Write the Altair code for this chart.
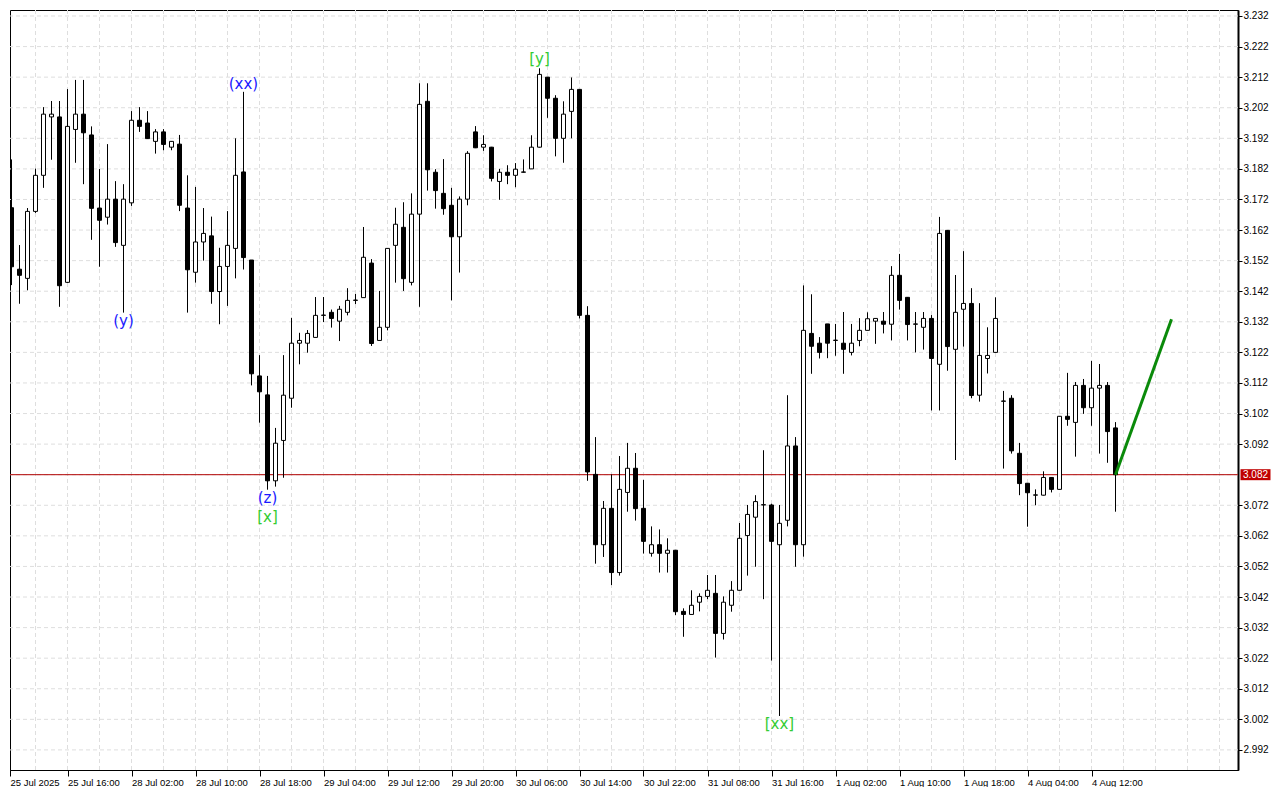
import altair as alt
import pandas as pd

# ---------------- data (hourly candles) ----------------
opens = [3.1653, 3.1693, 3.1492, 3.1462, 3.1681, 3.1799, 3.1990, 3.1990, 3.1449, 3.1949,
         3.1999, 3.1931, 3.1692, 3.1662, 3.1721, 3.1570, 3.1709, 3.1979, 3.1970, 3.1910,
         3.1941, 3.1891, 3.1901, 3.1692, 3.1482, 3.1581, 3.1601, 3.1419, 3.1501, 3.1560,
         3.1810, 3.1522, 3.1143, 3.1081, 3.0800, 3.0932, 3.1070, 3.1250, 3.1250, 3.1269,
         3.1341, 3.1351, 3.1322, 3.1351, 3.1390, 3.1399, 3.1512, 3.1259, 3.1302, 3.1570,
         3.1629, 3.1449, 3.1672, 3.2041, 3.1809, 3.1740, 3.1701, 3.1598, 3.1721, 3.1941,
         3.1891, 3.1891, 3.1779, 3.1809, 3.1799, 3.1809, 3.1820, 3.1891, 3.2120, 3.2051,
         3.1920, 3.2008, 3.2080, 3.1341, 3.0821, 3.0591, 3.0710, 3.0500, 3.0762, 3.0841,
         3.0710, 3.0563, 3.0591, 3.0563, 3.0573, 3.0373, 3.0363, 3.0403, 3.0422, 3.0432,
         3.0301, 3.0393, 3.0442, 3.0621, 3.0681, 3.0721, 3.0721, 3.0591, 3.0671, 3.0914,
         3.0591, 3.1282, 3.1250, 3.1313, 3.1259, 3.1250, 3.1220, 3.1259, 3.1292, 3.1322,
         3.1322, 3.1312, 3.1472, 3.1400, 3.1312, 3.1302, 3.1331, 3.1181, 3.1619, 3.1230,
         3.1361, 3.1380, 3.1080, 3.1200, 3.1220, 3.1060, 3.1070, 3.0890, 3.0792, 3.0753,
         3.0753, 3.0811, 3.0772, 3.1011, 3.0991, 3.1112, 3.1039, 3.1103, 3.1112, 3.0973]
highs = [3.1722, 3.1851, 3.1571, 3.1692, 3.1821, 3.2022, 3.2042, 3.2042, 3.2081, 3.2111,
         3.2111, 3.1959, 3.1820, 3.1901, 3.1780, 3.1770, 3.2009, 3.2022, 3.2009, 3.1950,
         3.1950, 3.1911, 3.1931, 3.1799, 3.1761, 3.1692, 3.1664, 3.1562, 3.1682, 3.1920,
         3.2072, 3.1522, 3.1211, 3.1143, 3.0973, 3.1211, 3.1333, 3.1284, 3.1293, 3.1401,
         3.1401, 3.1360, 3.1372, 3.1430, 3.1411, 3.1630, 3.1525, 3.1421, 3.1560, 3.1693,
         3.1711, 3.1740, 3.2100, 3.2100, 3.1819, 3.1852, 3.1758, 3.1730, 3.1878, 3.1960,
         3.1930, 3.1892, 3.1820, 3.1832, 3.1839, 3.1851, 3.1930, 3.2149, 3.2120, 3.2061,
         3.2041, 3.2119, 3.2080, 3.1371, 3.0943, 3.0734, 3.0821, 3.0881, 3.0924, 3.0891,
         3.0803, 3.0651, 3.0641, 3.0612, 3.0573, 3.0383, 3.0442, 3.0432, 3.0492, 3.0492,
         3.0422, 3.0472, 3.0662, 3.0721, 3.0753, 3.0900, 3.0725, 3.0721, 3.1080, 3.0943,
         3.1439, 3.1410, 3.1270, 3.1313, 3.1313, 3.1352, 3.1313, 3.1332, 3.1351, 3.1332,
         3.1352, 3.1502, 3.1542, 3.1401, 3.1352, 3.1352, 3.1342, 3.1663, 3.1620, 3.1473,
         3.1551, 3.1430, 3.1381, 3.1302, 3.1400, 3.1094, 3.1080, 3.0924, 3.0792, 3.0772,
         3.0831, 3.0812, 3.1012, 3.1153, 3.1123, 3.1133, 3.1192, 3.1182, 3.1123, 3.0992]
lows = [3.1633, 3.1440, 3.1379, 3.1423, 3.1676, 3.1758, 3.1850, 3.1369, 3.1447, 3.1840,
        3.1770, 3.1588, 3.1500, 3.1638, 3.1565, 3.1350, 3.1699, 3.1941, 3.1918, 3.1870,
        3.1881, 3.1881, 3.1682, 3.1350, 3.1448, 3.1520, 3.1379, 3.1312, 3.1372, 3.1462,
        3.1491, 3.1112, 3.0990, 3.0771, 3.0781, 3.0810, 3.1039, 3.1181, 3.1219, 3.1269,
        3.1319, 3.1301, 3.1257, 3.1341, 3.1378, 3.1398, 3.1241, 3.1259, 3.1292, 3.1448,
        3.1421, 3.1439, 3.1369, 3.1749, 3.1690, 3.1670, 3.1390, 3.1481, 3.1701, 3.1888,
        3.1879, 3.1779, 3.1719, 3.1770, 3.1760, 3.1808, 3.1820, 3.1890, 3.1987, 3.1861,
        3.1840, 3.1920, 3.1331, 3.0800, 3.0529, 3.0551, 3.0459, 3.0490, 3.0699, 3.0670,
        3.0562, 3.0552, 3.0500, 3.0500, 3.0361, 3.0290, 3.0363, 3.0373, 3.0413, 3.0222,
        3.0281, 3.0372, 3.0441, 3.0490, 3.0519, 3.0413, 3.0212, 3.0031, 3.0651, 3.0519,
        3.0552, 3.1150, 3.1200, 3.1201, 3.1209, 3.1150, 3.1210, 3.1240, 3.1292, 3.1248,
        3.1282, 3.1259, 3.1360, 3.1259, 3.1220, 3.1229, 3.1030, 3.1030, 3.1160, 3.0868,
        3.1239, 3.1070, 3.1059, 3.1151, 3.1219, 3.0840, 3.0889, 3.0753, 3.0650, 3.0720,
        3.0752, 3.0762, 3.0771, 3.0980, 3.0879, 3.1019, 3.0980, 3.0889, 3.0859, 3.0699]
closes = [3.1712, 3.1500, 3.1472, 3.1681, 3.1799, 3.1999, 3.1999, 3.1438, 3.1959, 3.1999,
          3.1938, 3.1691, 3.1652, 3.1721, 3.1579, 3.1721, 3.1979, 3.1959, 3.1919, 3.1941,
          3.1900, 3.1910, 3.1701, 3.1490, 3.1581, 3.1609, 3.1419, 3.1501, 3.1570, 3.1799,
          3.1530, 3.1150, 3.1091, 3.0800, 3.0923, 3.1080, 3.1250, 3.1259, 3.1282, 3.1341,
          3.1342, 3.1331, 3.1361, 3.1390, 3.1391, 3.1531, 3.1249, 3.1302, 3.1560, 3.1639,
          3.1461, 3.1672, 3.2031, 3.1817, 3.1749, 3.1690, 3.1598, 3.1721, 3.1871, 3.1889,
          3.1900, 3.1789, 3.1809, 3.1799, 3.1819, 3.1810, 3.1891, 3.2129, 3.2051, 3.1920,
          3.1999, 3.2080, 3.1341, 3.0829, 3.0591, 3.0710, 3.0500, 3.0772, 3.0841, 3.0709,
          3.0602, 3.0591, 3.0563, 3.0573, 3.0372, 3.0363, 3.0393, 3.0422, 3.0442, 3.0301,
          3.0403, 3.0442, 3.0612, 3.0690, 3.0732, 3.0722, 3.0602, 3.0661, 3.0914, 3.0591,
          3.1292, 3.1240, 3.1220, 3.1250, 3.1260, 3.1230, 3.1250, 3.1292, 3.1330, 3.1331,
          3.1312, 3.1472, 3.1390, 3.1311, 3.1313, 3.1331, 3.1200, 3.1609, 3.1239, 3.1351,
          3.1380, 3.1079, 3.1210, 3.1210, 3.1331, 3.1061, 3.0898, 3.0791, 3.0761, 3.0754,
          3.0811, 3.0772, 3.1011, 3.1001, 3.1112, 3.1039, 3.1103, 3.1112, 3.0961, 3.0820]

x_tick_labels = ["25 Jul 2025", "25 Jul 16:00", "28 Jul 02:00", "28 Jul 10:00", "28 Jul 18:00",
                 "29 Jul 04:00", "29 Jul 12:00", "29 Jul 20:00", "30 Jul 06:00", "30 Jul 14:00",
                 "30 Jul 22:00", "31 Jul 08:00", "31 Jul 16:00", "1 Aug 02:00", "1 Aug 10:00",
                 "1 Aug 18:00", "4 Aug 04:00", "4 Aug 12:00"]
y_tick_values = [2.992, 3.002, 3.012, 3.022, 3.032, 3.042, 3.052, 3.062, 3.072, 3.082,
                 3.092, 3.102, 3.112, 3.122, 3.132, 3.142, 3.152, 3.162, 3.172, 3.182,
                 3.192, 3.202, 3.212, 3.222, 3.232]
current_price = 3.082

label_text = ["(xx)", "(y)", "(z)", "[x]", "[y]", "[xx]"]
label_bar = [30, 15, 33, 33, 67, 97]
label_price = [3.2098, 3.1323, 3.0744, 3.0682, 3.2179, 3.0005]
label_color = ["#1a1aff", "#1a1aff", "#1a1aff", "#33cc33", "#33cc33", "#33cc33"]

proj_bar = [139, 146]
proj_price = [3.0820, 3.1328]

# ---------------- layout ----------------
W, H = 1228, 760
X_MIN = 0.8125
X_MAX = X_MIN + W / 8.0
Y_MIN, Y_MAX = 2.985433, 3.23396
FONT = "Liberation Sans"

n = len(opens)
df = pd.DataFrame({"i": list(range(n)), "open": opens, "high": highs,
                   "low": lows, "close": closes})
df["fillc"] = ["white" if c >= o else "black" for o, c in zip(opens, closes)]

xs = alt.Scale(domain=[X_MIN, X_MAX], nice=False, zero=False, padding=0)
ys = alt.Scale(domain=[Y_MIN, Y_MAX], nice=False, zero=False, padding=0)

x_vals = [X_MIN] + [8 * k for k in range(1, len(x_tick_labels))]
lbl_arr = "[" + ",".join("'" + s + "'" for s in x_tick_labels) + "]"
x_axis = alt.Axis(values=x_vals, labelExpr=lbl_arr + "[round(datum.value/8)]", title=None,
                  grid=False, tickSize=6, tickColor="black", domainColor="black",
                  labelAlign="left", labelBaseline="top", labelPadding=1,
                  labelFont=FONT, labelFontSize=9.5, labelColor="black",
                  labelFlush=False, labelOverlap=False, labelBound=False)
y_axis = alt.Axis(orient="right", values=[v for v in y_tick_values if abs(v - current_price) > 1e-6],
                  format=".3f", title=None, grid=False, tickSize=4, tickColor="black",
                  labelPadding=1, domainWidth=2, domainColor="black",
                  labelFont=FONT, labelFontSize=10, labelColor="black",
                  labelFlush=False, labelOverlap=False, labelBound=False)

grid_x_df = pd.DataFrame({"g": [4 * k for k in range(1, 39)]})
grid_y_df = pd.DataFrame({"gy": y_tick_values})
GRID = "#dedede"

grid_v = alt.Chart(grid_x_df).mark_rule(color=GRID, strokeDash=[4, 3], strokeWidth=1).encode(
    x=alt.X("g:Q", scale=xs, axis=x_axis))
grid_h = alt.Chart(grid_y_df).mark_rule(color=GRID, strokeDash=[4, 3], strokeWidth=1).encode(
    y=alt.Y("gy:Q", scale=ys, axis=y_axis))

price_df = pd.DataFrame({"p": [current_price], "t": ["3.082"]})
price_line = alt.Chart(price_df).mark_rule(color="#b00000", strokeWidth=1).encode(
    y=alt.Y("p:Q", scale=ys, axis=y_axis))

wicks = alt.Chart(df).mark_rule(color="black", strokeWidth=1, clip=True).encode(
    x=alt.X("i:Q", scale=xs, axis=x_axis),
    y=alt.Y("low:Q", scale=ys, axis=y_axis),
    y2="high:Q")
bodies = alt.Chart(df).mark_bar(width=4, stroke="black", strokeWidth=1, clip=True).encode(
    x=alt.X("i:Q", scale=xs, axis=x_axis),
    y=alt.Y("open:Q", scale=ys, axis=y_axis),
    y2="close:Q",
    fill=alt.Fill("fillc:N", scale=None))

proj_df = pd.DataFrame({"i": proj_bar, "p": proj_price})
proj = alt.Chart(proj_df).mark_line(color="#0a8a0a", strokeWidth=3).encode(
    x=alt.X("i:Q", scale=xs, axis=x_axis),
    y=alt.Y("p:Q", scale=ys, axis=y_axis))

lab_df = pd.DataFrame({"i": label_bar, "p": label_price, "t": label_text, "c": label_color})
labels = alt.Chart(lab_df).mark_text(font="DejaVu Sans", fontSize=15, align="center",
                                     baseline="middle").encode(
    x=alt.X("i:Q", scale=xs, axis=x_axis),
    y=alt.Y("p:Q", scale=ys, axis=y_axis),
    text="t:N",
    color=alt.Color("c:N", scale=None))

box = alt.Chart(price_df).mark_tick(orient="horizontal", size=30, thickness=11,
                                    color="#c00000", opacity=1).encode(
    x=alt.value(W + 17.5),
    y=alt.Y("p:Q", scale=ys, axis=y_axis))
box_text = alt.Chart(price_df).mark_text(color="white", font=FONT, fontSize=10,
                                         align="center", baseline="middle").encode(
    x=alt.value(W + 17.5),
    y=alt.Y("p:Q", scale=ys, axis=y_axis),
    text="t:N")

chart = alt.layer(grid_v, grid_h, price_line, wicks, bodies, proj, labels, box, box_text).properties(
    width=W, height=H, padding={"left": 1, "top": 1, "right": 0, "bottom": 0},
    background="white"
).configure_view(stroke="black", strokeWidth=1)

chart.save("out.html", embed_options={"renderer": "svg", "actions": False})
